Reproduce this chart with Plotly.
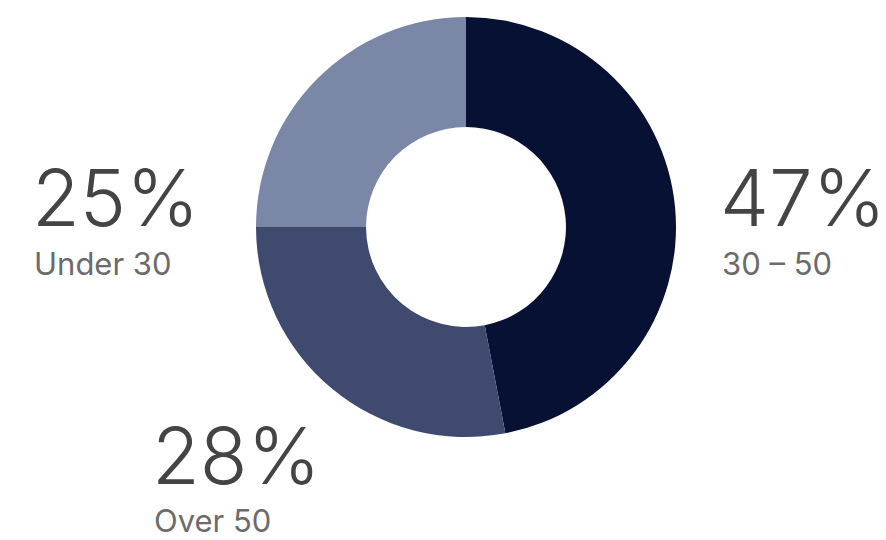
import plotly.graph_objects as go

labels = ["30 – 50", "Over 50", "Under 30"]
values = [47, 28, 25]
colors = ["#061133", "#3f4a6e", "#7b87a6"]
pct_text = ["47%", "28%", "25%"]

W, H = 886, 540
cx, cy, r = 466, 227, 210

fig = go.Figure(go.Pie(
    labels=labels, values=values, sort=False, direction="clockwise", rotation=0,
    hole=0.476, marker=dict(colors=colors, line=dict(width=0)),
    textinfo="none", hoverinfo="label+percent", showlegend=False,
    domain=dict(x=[(cx - r) / W, (cx + r) / W], y=[(H - cy - r) / H, (H - cy + r) / H]),
))

# label positions (left x, big-text middle y, small-text middle y) in pixels
label_pos = [(718, 197, 263), (150, 455, 520), (30, 197, 263)]
annotations = []
for (x, yb, ys), big, small in zip(label_pos, pct_text, labels):
    annotations.append(dict(text=big, x=x / W, y=1 - yb / H, xref="paper", yref="paper",
                            xanchor="left", yanchor="middle", showarrow=False,
                            font=dict(family="Inter", size=78, color="#444444", weight=300)))
    annotations.append(dict(text=small, x=(x + 2) / W, y=1 - ys / H, xref="paper", yref="paper",
                            xanchor="left", yanchor="middle", showarrow=False,
                            font=dict(family="Inter", size=31, color="#6b6b6b", weight=400)))

fig.update_layout(width=W, height=H, margin=dict(l=0, r=0, t=0, b=0),
                  paper_bgcolor="white", plot_bgcolor="white", annotations=annotations)
fig.write_html("out.html")
